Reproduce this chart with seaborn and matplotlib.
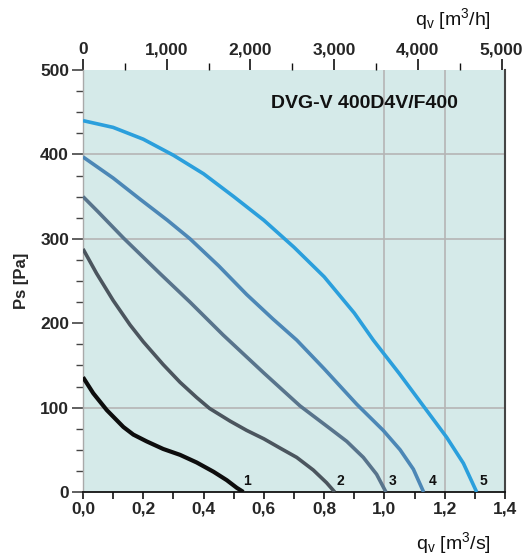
import numpy as np
import pandas as pd
import matplotlib
matplotlib.use("Agg")
import matplotlib.pyplot as plt
import seaborn as sns
from matplotlib.ticker import MultipleLocator, FixedLocator, FuncFormatter

# ---- data ----
q1 = [0.0, 0.034, 0.079, 0.134, 0.167, 0.211, 0.266, 0.322, 0.377, 0.433, 0.477, 0.51, 0.532]
p1 = [136, 117, 97, 77, 68, 60, 51, 44, 35, 24, 14, 5, 0]

q2 = [0.0, 0.045, 0.10, 0.156, 0.20, 0.266, 0.322, 0.377, 0.42, 0.488, 0.543, 0.60, 0.654, 0.709, 0.764, 0.808, 0.835]
p2 = [288, 259, 227, 198, 178, 151, 130, 112, 99, 84, 73, 63, 52, 41, 26, 11, 0]

q3 = [0.0, 0.05, 0.134, 0.255, 0.355, 0.465, 0.51, 0.60, 0.72, 0.82, 0.875, 0.93, 0.974, 1.005]
p3 = [350, 332, 301, 259, 225, 186, 171, 141, 102, 75, 60, 41, 21, 0]

q4 = [0.0, 0.10, 0.189, 0.28, 0.355, 0.45, 0.543, 0.63, 0.709, 0.80, 0.908, 0.996, 1.052, 1.096, 1.13]
p4 = [397, 372, 347, 322, 300, 268, 234, 205, 180, 146, 104, 73, 50, 27, 0]

q5 = [0.0, 0.10, 0.20, 0.30, 0.40, 0.50, 0.60, 0.70, 0.80, 0.90, 0.963, 1.05, 1.129, 1.206, 1.262, 1.306]
p5 = [440, 432, 418, 399, 377, 350, 322, 290, 255, 212, 180, 140, 102, 65, 34, 0]

curve_names = ["1", "2", "3", "4", "5"]
label_x = [0.545, 0.855, 1.027, 1.160, 1.330]
label_y = [13, 13, 13, 13, 13]

x_ticks = [0.0, 0.2, 0.4, 0.6, 0.8, 1.0, 1.2, 1.4]
y_ticks = [0, 100, 200, 300, 400, 500]
top_ticks = [0, 1000, 2000, 3000, 4000, 5000]
grid_x = [1.0, 1.2]
grid_y = [100, 300, 400]
title = "DVG-V 400D4V/F400"

# ---- build long-form table ----
frames = []
for name, q, p in zip(curve_names, [q1, q2, q3, q4, q5], [p1, p2, p3, p4, p5]):
    frames.append(pd.DataFrame({"q": q, "p": p, "curve": name}))
df = pd.concat(frames, ignore_index=True)

colors = {"1": "#0d0d0d", "2": "#4b555e", "3": "#58748c", "4": "#4c87b6", "5": "#2b9fdc"}
widths = {"1": 3.0, "2": 2.6, "3": 2.6, "4": 2.6, "5": 2.6}

sns.set_style("white")
plt.rcParams["font.family"] = ["Liberation Sans", "DejaVu Sans"]
plt.rcParams["mathtext.fontset"] = "custom"
plt.rcParams["mathtext.rm"] = "Liberation Sans"
plt.rcParams["mathtext.it"] = "Liberation Sans:italic"
plt.rcParams["axes.grid"] = False

fig = plt.figure(figsize=(5.28, 5.58), dpi=100)
ax = fig.add_axes([83 / 528, 66 / 558, 422 / 528, 422 / 558])
ax.set_facecolor("#d5eae9")

ax.set_xlim(0, 1.4)
ax.set_ylim(0, 500)

for name in curve_names:
    sub = df[df["curve"] == name]
    sns.lineplot(data=sub, x="q", y="p", ax=ax, color=colors[name],
                 lw=widths[name], legend=False, zorder=3, sort=False,
                 solid_joinstyle="round", solid_capstyle="butt")
ax.grid(False)

# grid lines (only some, as in the reference)
ax.vlines(grid_x, 0, 500, color="#b5b5b5", lw=1.2, zorder=1)
ax.hlines(grid_y, 0, 1.4, color="#b5b5b5", lw=1.2, zorder=1)

for name, lx, ly in zip(curve_names, label_x, label_y):
    ax.text(lx, ly, name, fontsize=10, fontweight="bold", ha="center",
            va="center", color="#111111", zorder=4)

ax.text(0.668, 0.92, title, transform=ax.transAxes, fontsize=14,
        fontweight="bold", ha="center", va="center", color="#111111")

# spines
ax.spines["left"].set_color("#a9a9a9")
ax.spines["left"].set_linewidth(1.0)
ax.spines["top"].set_visible(False)
ax.spines["bottom"].set_color("#111111")
ax.spines["bottom"].set_linewidth(1.3)
ax.spines["right"].set_color("#444444")
ax.spines["right"].set_linewidth(1.5)

# bottom ticks
ax.xaxis.set_major_locator(FixedLocator(x_ticks))
ax.xaxis.set_minor_locator(MultipleLocator(0.1))
ax.set_xticklabels([f"{v:.1f}".replace(".", ",") for v in x_ticks])
ax.tick_params(axis="x", which="both", direction="out", bottom=True, top=False,
               length=5, width=1.2, color="#111111", labelsize=12.5, pad=2)
# left ticks
ax.yaxis.set_major_locator(FixedLocator(y_ticks))
ax.yaxis.set_minor_locator(MultipleLocator(25))
ax.tick_params(axis="y", which="major", direction="out", left=True, length=8,
               width=1.2, color="#444444", labelsize=12.5, pad=2)
ax.tick_params(axis="y", which="minor", direction="out", left=True, length=5,
               width=1.0, color="#444444")
for lab in ax.get_xticklabels() + ax.get_yticklabels():
    lab.set_fontweight("bold")

ax.set_xlabel("")
ax.set_ylabel("Ps [Pa]", fontsize=12, fontweight="bold", labelpad=8)

# top axis in m3/h
sec = ax.secondary_xaxis("top", functions=(lambda x: x * 3600.0, lambda x: x / 3600.0))
sec.xaxis.set_major_locator(FixedLocator(top_ticks))
sec.xaxis.set_minor_locator(MultipleLocator(500))
sec.xaxis.set_major_formatter(FuncFormatter(lambda v, p: f"{int(round(v)):,}"))
sec.tick_params(axis="x", which="major", direction="out", length=8, width=1.2,
                color="#111111", labelsize=12.5, pad=1)
sec.tick_params(axis="x", which="minor", direction="out", length=5, width=1.0,
                color="#111111")
sec.spines["top"].set_visible(False)
sec.grid(False)
for lab in sec.get_xticklabels():
    lab.set_fontweight("bold")

for gl in ax.get_xgridlines() + ax.get_ygridlines():
    gl.set_visible(False)

fig.text(453 / 528, 1 - 19 / 558, r"q$_\mathrm{v}$ [m$^3$/h]", fontsize=14,
         ha="center", va="center", color="#111111")
fig.text(453 / 528, 1 - 543 / 558, r"q$_\mathrm{v}$ [m$^3$/s]", fontsize=14,
         ha="center", va="center", color="#111111")

fig.savefig("out.png", dpi=100)
